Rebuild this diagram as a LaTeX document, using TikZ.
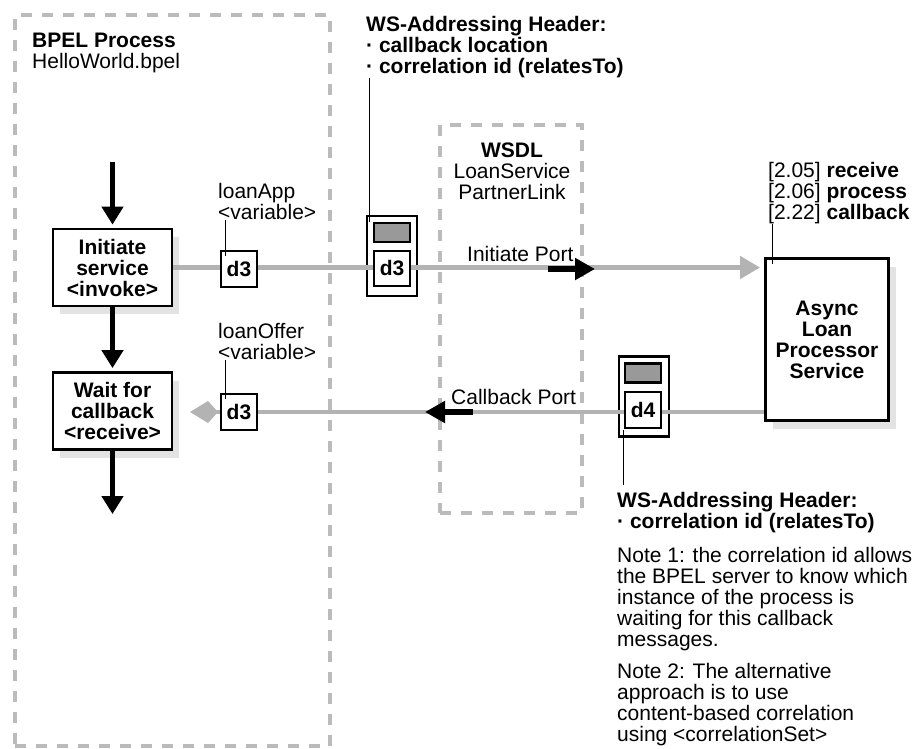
\documentclass[tikz,border=0pt]{standalone}
\usepackage{fontspec}
\setmainfont{Liberation Sans}
\usepackage{tikz}
\usetikzlibrary{arrows.meta,shadows}

\definecolor{dashgray}{HTML}{BBBBBB}
\definecolor{linegray}{HTML}{B3B3B3}
\definecolor{hdrgray}{HTML}{999999}
\definecolor{shadegray}{HTML}{E3E3E3}

\begin{document}
\begin{tikzpicture}[x=1pt, y=-1pt,
    every node/.style={font=\fontsize{21}{21}\selectfont, inner sep=0pt},
    grp/.style={draw=dashgray, line width=4pt, dash pattern=on 11pt off 10pt},
    act/.style={draw, line width=2.8pt, fill=white, align=center,
        font=\fontsize{21}{21}\selectfont\bfseries,
        drop shadow={shadow xshift=7pt, shadow yshift=-8pt, fill=shadegray, opacity=1}},
    dat/.style={draw, line width=2.8pt, fill=white, minimum width=36pt, minimum height=36pt,
        font=\fontsize{21}{21}\selectfont\bfseries},
    hdr/.style={draw, line width=2.8pt, minimum width=50pt, minimum height=80pt},
    hdrfill/.style={draw, line width=2.8pt, fill=hdrgray, minimum width=36pt, minimum height=19pt},
    txt/.style={anchor=north west, align=left},
    boldtxt/.style={txt, font=\fontsize{21}{21}\selectfont\bfseries},
    flow/.style={draw=linegray, line width=4.5pt},
    seq/.style={line width=4.5pt, -{Triangle[length=18pt,width=21pt]}, shorten >=3pt},
    port/.style={line width=6pt, -{Triangle[length=20pt,width=21pt]}},
    lead/.style={line width=1pt}]

    \useasboundingbox (0,0) rectangle (912,748);

    % containers
    \node[grp, minimum width=315pt, minimum height=731pt] (bpel) at (172.5,380.5) {};
    \node[grp, minimum width=142pt, minimum height=388pt] (wsdl) at (511,319) {};

    \node[txt] (bpeltitle) at (32,33) {\textbf{BPEL Process}\\HelloWorld.bpel};
    \node[anchor=north, align=center] (wsdltitle) at (512,143) {\textbf{WSDL}\\LoanService\\PartnerLink};

    % activities
    \coordinate (startpt) at (112.5,162);
    \node[act, minimum width=119pt, minimum height=77pt] (init) at (112.5,267.5) {Initiate\\service\\<invoke>};
    \node[act, minimum width=119pt, minimum height=77pt] (wait) at (112.5,411) {Wait for\\callback\\<receive>};
    \coordinate (endpt) at (112.5,514);
    \node[act, minimum width=123pt, minimum height=162pt] (async) at (827,339.5) {Async\\Loan\\Processor\\Service};

    \node[hdr] (hdrA) at (392,256) {};
    \node[hdr] (hdrB) at (644,396.5) {};

    % message lines
    \coordinate (kiteB) at (190,412);
    \draw[flow, -{Triangle[length=20pt,width=22pt]}, shorten >=4pt] (init.east) -- (init.east -| async.west);
    \draw[flow, -{Kite[length=28pt,width=22pt,inset=10pt]}] (async.west |- kiteB) -- (kiteB);

    \node[dat] (dA) at (239,269) {d3};
    \node[dat] (dB) at (239,412) {d3};
    \node[hdrfill] (gA) at (392,232.5) {};
    \node[dat, minimum height=35pt] (hA) at (392,268.5) {d3};
    \node[hdrfill] (gB) at (643,373) {};
    \node[dat] (hB) at (643,410) {d4};

    \draw[seq] (startpt) -- (init.north);
    \draw[seq] (init.south) -- (wait.north);
    \draw[seq, shorten >=0pt] (wait.south) -- (endpt);

    \coordinate (pA1) at (548,269);
    \coordinate (pA2) at (595,269);
    \coordinate (pB1) at (473,412);
    \coordinate (pB2) at (425,412);
    \draw[port] (pA1) -- (pA2);
    \draw[port] (pB1) -- (pB2);
    \node[anchor=base west] (portA) at (467,261) {Initiate Port};
    \node[anchor=base west] (portB) at (451,404) {Callback Port};

    % labels and notes
    \node[txt] (varA) at (218,183) {loanApp\\<variable>};
    \node[txt] (varB) at (218,323) {loanOffer\\<variable>};
    \node[boldtxt] (hdrtxtA) at (366,16) {WS-Addressing Header:\\· callback location\\· correlation id (relatesTo)};
    \node[txt] (steps) at (768,162) {[2.05] \textbf{receive}\\{}[2.06] \textbf{process}\\{}[2.22] \textbf{callback}};
    \node[boldtxt] (hdrtxtB) at (617,492) {WS-Addressing Header:\\· correlation id (relatesTo)};
    \node[txt] (note1) at (617,547) {Note 1: the correlation id allows\\the BPEL server to know which\\instance of the process is\\waiting for this callback\\messages.};
    \node[txt] (note2) at (617,663) {Note 2: The alternative\\approach is to use\\content-based correlation\\using <correlationSet>};

    \draw[lead] ([xshift=3pt]hdrtxtA.south west) coordinate (lA) -- (lA |- gA.north);
    \draw[lead] ([xshift=7pt]varA.south west) coordinate (lvA) -- ([yshift=-6pt]lvA |- dA.north);
    \draw[lead] ([xshift=7pt]varB.south west) coordinate (lvB) -- ([yshift=-6pt]lvB |- dB.north);
    \draw[lead] ([xshift=4pt]steps.south west) coordinate (ls) -- ([yshift=-7pt]ls |- async.north);
    \draw[lead] ([shift={(6pt,7pt)}]hdrtxtB.north west) coordinate (lh) -- ([yshift=8pt]lh |- hdrB.south);
\end{tikzpicture}
\end{document}
